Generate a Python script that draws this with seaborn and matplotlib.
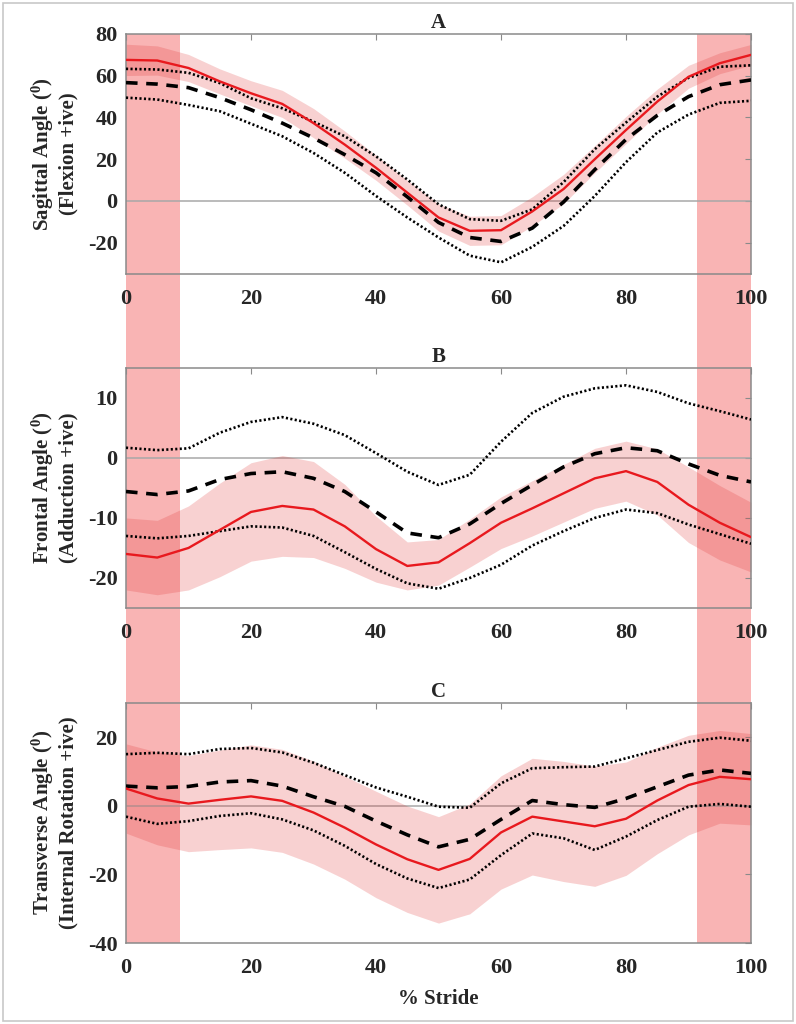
import numpy as np
import pandas as pd
import matplotlib.pyplot as plt
import seaborn as sns
from matplotlib.patches import Rectangle
from matplotlib.transforms import blended_transform_factory

# % stride sample points
stride = [0, 5, 10, 15, 20, 25, 30, 35, 40, 45, 50, 55, 60, 65, 70, 75, 80, 85, 90, 95, 100]

# A - sagittal
red_A = [67.6, 67.3, 63.7, 57.3, 51.6, 46.5, 37.3, 27.0, 15.9, 4.0, -7.9, -14.3, -14.0, -5.0, 5.7, 20.0, 34.0, 47.6, 59.5, 66.0, 70.0]
sd_A = [7.5, 7.0, 6.5, 6.0, 6.0, 6.5, 7.0, 6.5, 6.0, 6.0, 6.5, 7.0, 7.0, 7.0, 7.0, 6.5, 6.5, 6.0, 5.5, 5.0, 5.0]
dash_A = [56.7, 56.0, 54.3, 49.5, 43.7, 37.3, 30.2, 22.2, 13.5, 2.0, -10.3, -17.5, -19.4, -13.0, -0.5, 15.0, 29.5, 41.0, 50.0, 55.7, 58.0]
up_A = [63.3, 63.0, 61.4, 56.5, 49.2, 44.4, 38.0, 31.0, 21.4, 10.3, -1.6, -8.7, -9.5, -4.0, 9.0, 24.8, 37.6, 50.0, 59.0, 64.3, 65.0]
lo_A = [49.5, 48.6, 46.0, 43.0, 37.0, 31.0, 23.0, 13.5, 2.4, -7.9, -17.5, -26.2, -29.4, -22.0, -12.0, 2.4, 18.6, 32.8, 41.4, 47.0, 48.0]

# B - frontal
red_B = [-16.0, -16.6, -15.0, -12.0, -9.0, -8.0, -8.6, -11.4, -15.2, -18.0, -17.4, -14.2, -10.8, -8.4, -5.9, -3.4, -2.2, -4.0, -7.8, -10.8, -13.2]
sd_B = [6.0, 6.2, 7.0, 7.8, 8.2, 8.4, 8.0, 7.0, 5.5, 4.0, 3.8, 4.0, 4.3, 4.6, 4.8, 5.0, 5.0, 5.5, 6.3, 6.2, 5.8]
dash_B = [-5.6, -6.1, -5.5, -3.6, -2.6, -2.3, -3.4, -5.6, -9.0, -12.5, -13.3, -11.0, -7.6, -4.5, -1.5, 0.7, 1.7, 1.2, -1.0, -2.9, -4.0]
up_B = [1.7, 1.3, 1.6, 4.2, 6.0, 6.8, 5.7, 3.8, 0.8, -2.3, -4.5, -2.8, 2.7, 7.5, 10.2, 11.6, 12.1, 11.0, 9.1, 7.8, 6.4]
lo_B = [-13.0, -13.4, -13.0, -12.2, -11.4, -11.6, -13.0, -15.7, -18.5, -20.9, -21.8, -20.0, -17.8, -14.6, -12.2, -10.0, -8.6, -9.2, -11.1, -12.7, -14.3]

# C - transverse
red_C = [5.0, 2.1, 0.6, 1.7, 2.7, 1.4, -2.0, -6.4, -11.3, -15.6, -18.7, -15.5, -7.8, -3.2, -4.6, -6.0, -3.8, 1.5, 6.0, 8.4, 7.7]
sd_C = [13.0, 13.5, 14.0, 14.5, 15.0, 15.0, 15.0, 15.0, 15.5, 15.5, 15.5, 16.0, 16.5, 17.0, 17.5, 17.5, 16.5, 15.5, 14.5, 13.5, 13.3]
dash_C = [5.7, 5.2, 5.6, 6.9, 7.3, 5.7, 2.6, -0.2, -4.5, -8.5, -12.0, -9.8, -4.0, 1.5, 0.3, -0.5, 2.1, 5.5, 8.9, 10.4, 9.4]
up_C = [15.0, 15.4, 15.0, 16.5, 16.8, 15.5, 12.5, 8.9, 5.3, 2.6, -0.3, -0.6, 6.5, 10.9, 11.2, 11.4, 13.8, 16.2, 18.6, 19.8, 18.9]
lo_C = [-3.2, -5.3, -4.5, -3.0, -2.2, -4.0, -7.2, -11.7, -17.0, -21.2, -24.0, -21.5, -14.4, -8.1, -9.5, -12.9, -9.0, -4.2, -0.3, 0.5, -0.3]

# double-support windows (% stride)
shade_spans = [(0, 8.6), (91.3, 100)]

panels = ["A", "B", "C"]
ylabels = ["Sagittal Angle ($^0$)\n(Flexion +ive)",
           "Frontal Angle ($^0$)\n(Adduction +ive)",
           "Transverse Angle ($^0$)\n(Internal Rotation +ive)"]
ylims = [(-35, 80), (-25, 15), (-40, 30)]
yticks = [[-20, 0, 20, 40, 60, 80], [-20, -10, 0, 10], [-40, -20, 0, 20]]
data = [(red_A, sd_A, dash_A, up_A, lo_A),
        (red_B, sd_B, dash_B, up_B, lo_B),
        (red_C, sd_C, dash_C, up_C, lo_C)]

sns.set_style("white")
plt.rcParams['font.family'] = ['Liberation Serif', 'DejaVu Serif']
plt.rcParams['font.weight'] = 'bold'
plt.rcParams['axes.unicode_minus'] = False
plt.rcParams['mathtext.fontset'] = 'custom'
plt.rcParams['mathtext.rm'] = 'Liberation Serif:bold'
plt.rcParams['mathtext.it'] = 'Liberation Serif:bold'
plt.rcParams['mathtext.bf'] = 'Liberation Serif:bold'

fig = plt.figure(figsize=(7.96, 10.24), dpi=100)
boxes = [[0.1583, 0.7324, 0.7852, 0.2344],
         [0.1583, 0.4063, 0.7852, 0.2344],
         [0.1583, 0.0791, 0.7852, 0.2347]]
axes = [fig.add_axes(b) for b in boxes]

red = "#e8191e"
grey = "#8a8a8a"

for ax, name, lab, yl, yt, (m, s, d, u, l) in zip(axes, panels, ylabels, ylims, yticks, data):
    ax.set_facecolor("none")
    m = np.array(m)
    s = np.array(s)
    ax.axhline(0, color="#a8a8a8", lw=1.1, zorder=1)
    ax.fill_between(stride, m - s, m + s, color="#e03030", alpha=0.22, lw=0, zorder=1)
    sns.lineplot(x=stride, y=u, ax=ax, color="black", lw=1.9, ls=(0, (0.8, 0.9)), errorbar=None, zorder=3)
    sns.lineplot(x=stride, y=l, ax=ax, color="black", lw=1.9, ls=(0, (0.8, 0.9)), errorbar=None, zorder=3)
    sns.lineplot(x=stride, y=d, ax=ax, color="black", lw=2.6, ls=(0, (3.2, 2.4)), errorbar=None, zorder=3)
    sns.lineplot(x=stride, y=m, ax=ax, color=red, lw=1.7, errorbar=None, zorder=4,
                 solid_joinstyle="round")
    ax.set_xlim(0, 100)
    ax.set_ylim(*yl)
    ax.set_yticks(yt)
    ax.set_xticks([0, 20, 40, 60, 80, 100])
    ax.set_title(name, fontsize=15, fontweight="bold", pad=4)
    ax.set_ylabel(lab, fontsize=15, fontweight="bold", labelpad=7, linespacing=1.15)
    ax.tick_params(direction="in", length=4, width=0.8, color=grey, top=True, right=True,
                   labelsize=16)
    ax.tick_params(axis="x", pad=11)
    ax.tick_params(axis="y", pad=6)
    for lbl in ax.get_xticklabels() + ax.get_yticklabels():
        lbl.set_fontweight("bold")
    for sp in ax.spines.values():
        sp.set_color(grey)
        sp.set_linewidth(1.1)
        sp.set_visible(True)

axes[2].set_xlabel("% Stride", fontsize=15, fontweight="bold", labelpad=8)

# stance shading running through all three panels
trans = blended_transform_factory(axes[0].transData, fig.transFigure)
y_bottom = boxes[2][1]
y_top = boxes[0][1] + boxes[0][3]
for x0, x1 in shade_spans:
    axes[0].add_patch(Rectangle((x0, y_bottom), x1 - x0, y_top - y_bottom, transform=trans,
                                facecolor="#f03c3c", alpha=0.38, lw=0, zorder=0, clip_on=False))

fig.patches.append(Rectangle((0.004, 0.003), 0.992, 0.994, transform=fig.transFigure,
                             fill=False, edgecolor="#c8c8c8", lw=1.2))

fig.savefig("out.png", dpi=100, facecolor="white")
